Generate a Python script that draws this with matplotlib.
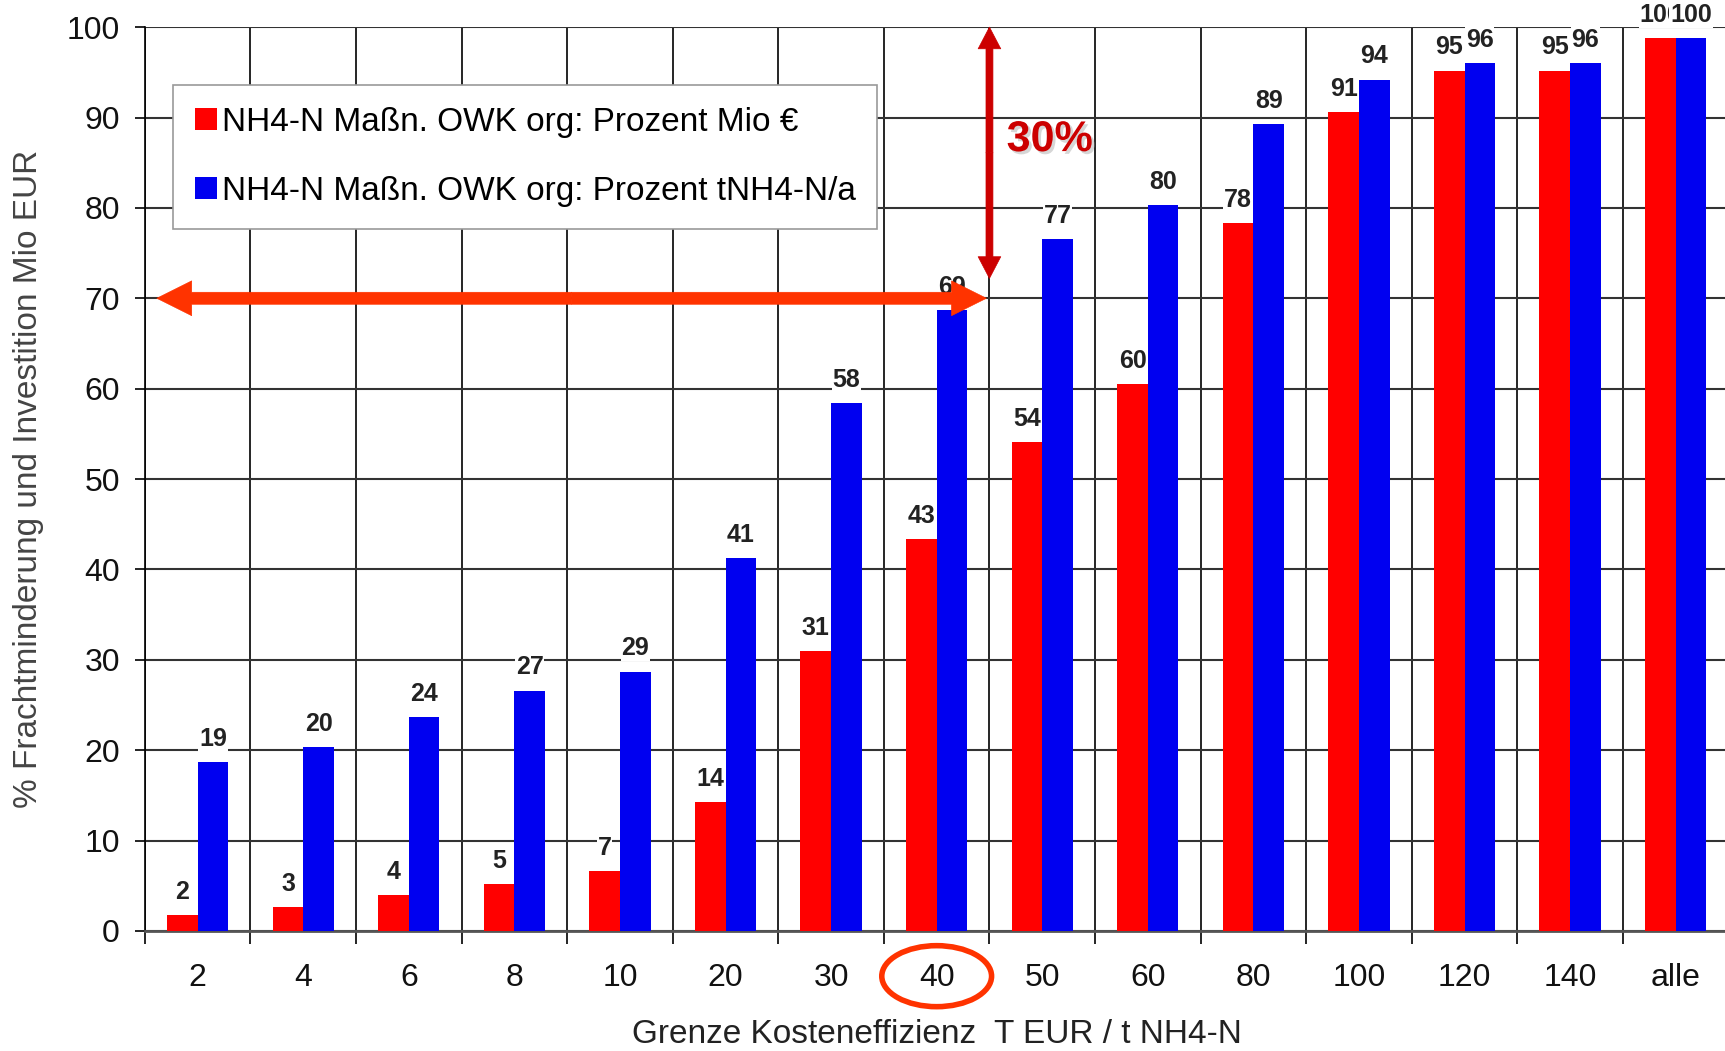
import numpy as np
import matplotlib
matplotlib.use('Agg')
import matplotlib.pyplot as plt
from matplotlib.patches import Ellipse
import matplotlib.patheffects as pe

plt.rcParams['font.family'] = ['Liberation Sans', 'DejaVu Sans']

# Data
categories = ['2', '4', '6', '8', '10', '20', '30', '40', '50', '60', '80', '100', '120', '140', 'alle']
cost_pct = [1.8, 2.6, 4.0, 5.2, 6.6, 14.3, 31.0, 43.4, 54.1, 60.5, 78.3, 90.6, 95.2, 95.2, 98.8]
load_pct = [18.7, 20.3, 23.7, 26.6, 28.7, 41.3, 58.4, 68.7, 76.6, 80.3, 89.3, 94.2, 96.0, 96.0, 98.8]
cost_labels = ['2', '3', '4', '5', '7', '14', '31', '43', '54', '60', '78', '91', '95', '95', '100']
load_labels = ['19', '20', '24', '27', '29', '41', '58', '69', '77', '80', '89', '94', '96', '96', '100']

red = '#ff0000'
blue = '#0000f0'

fig = plt.figure(figsize=(17.25, 10.51), dpi=100)
ax = fig.add_axes([0.084, 0.1142, 0.918, 0.860])

x = np.arange(len(categories))
w = 0.29
ax.bar(x - w / 2, cost_pct, w, color=red, label='NH4-N Maßn. OWK org: Prozent Mio €', zorder=3)
ax.bar(x + w / 2, load_pct, w, color=blue, label='NH4-N Maßn. OWK org: Prozent tNH4-N/a', zorder=3)

# value labels with white background
for i in range(len(categories)):
    ax.annotate(cost_labels[i], (x[i] - w / 2, cost_pct[i]), xytext=(0, 8), textcoords='offset points',
                ha='center', va='bottom', fontsize=18, fontweight='bold', color='#222222',
                bbox=dict(fc='white', ec='none', pad=0.5), zorder=5)
    ax.annotate(load_labels[i], (x[i] + w / 2, load_pct[i]), xytext=(0, 8), textcoords='offset points',
                ha='center', va='bottom', fontsize=18, fontweight='bold', color='#222222',
                bbox=dict(fc='white', ec='none', pad=0.5), zorder=6)

ax.set_xlim(-0.5, len(categories) - 0.5)
ax.set_ylim(0, 100)
ax.set_yticks(np.arange(0, 101, 10))
ax.set_xticks(x)
ax.set_xticklabels(categories)
ax.set_xticks(np.arange(-0.5, len(categories), 1), minor=True)

ax.grid(axis='y', color='#333333', lw=1.5, zorder=0)
ax.grid(axis='x', which='minor', color='black', lw=1.2, zorder=0)
ax.set_axisbelow(True)

ax.tick_params(axis='x', which='major', length=0, pad=23, labelsize=23, labelcolor='#111111')
ax.tick_params(axis='x', which='minor', length=9, width=1.2, direction='out')
ax.tick_params(axis='y', length=7, width=1.2, pad=11, labelsize=23, labelcolor='#111111')

for s in ['top', 'right']:
    ax.spines[s].set_visible(False)
ax.spines['left'].set_linewidth(1.2)
ax.spines['bottom'].set_linewidth(2)
ax.spines['bottom'].set_color('#555555')

ax.set_ylabel('% Frachtminderung und Investition Mio EUR', fontsize=24, color='#444444')
ax.yaxis.set_label_coords(-0.064, 0.5)
ax.set_xlabel('Grenze Kosteneffizienz  T EUR / t NH4-N', fontsize=24, color='#222222', va='center')
ax.xaxis.set_label_coords(0.5, -0.114)

leg = ax.legend(loc='upper left', bbox_to_anchor=(0.018, 0.936), borderaxespad=0, fontsize=24,
                fancybox=False, shadow=False, edgecolor='#999999', framealpha=1,
                handlelength=0.65, handleheight=0.65, handletextpad=0.15, labelspacing=1.15,
                borderpad=0.65)
leg.get_frame().set_linewidth(1.2)
leg.set_zorder(7)

# annotations: double arrows built from two filled halves
def double_arrow(p0, p1, color, hl, hw, tw):
    mid = ((p0[0] + p1[0]) / 2, (p0[1] + p1[1]) / 2)
    style = 'simple,head_length=%g,head_width=%g,tail_width=%g' % (hl, hw, tw)
    for tip in (p0, p1):
        ax.annotate('', xy=tip, xytext=mid, annotation_clip=False, zorder=8,
                    arrowprops=dict(arrowstyle=style, mutation_scale=1, fc=color, ec=color, lw=0.5,
                                    shrinkA=0, shrinkB=0))

double_arrow((-0.386, 70), (7.47, 70), '#ff3300', 25, 25, 8.6)
double_arrow((7.5, 100), (7.5, 72.2), '#cc0000', 15.6, 16.3, 5)

ax.text(8.07, 87.5, '30%', fontsize=31, fontweight='bold', color='#cc0000', ha='center', va='center',
        zorder=8, path_effects=[pe.SimplePatchShadow(offset=(2, -2), shadow_rgbFace='#bbbbbb', alpha=0.6),
                                pe.Normal()])
ax.add_patch(Ellipse((7, -5.0), 1.04, 6.75, fill=False, ec='#ff3300', lw=4, clip_on=False, zorder=8))

plt.savefig('out.png', dpi=100)
